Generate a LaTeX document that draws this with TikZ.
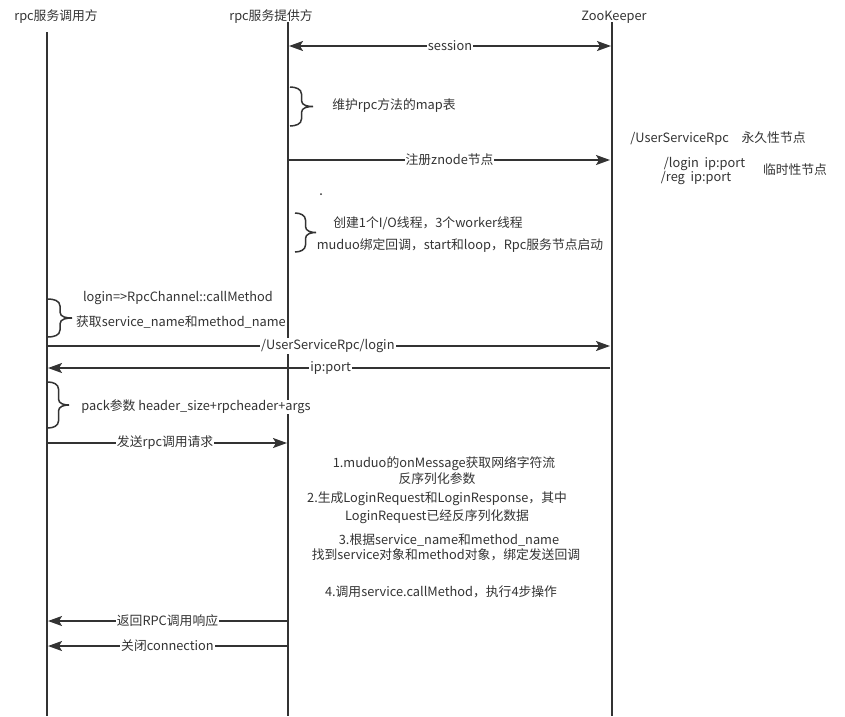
\documentclass[tikz,border=0pt]{standalone}
\usepackage{fontspec}
\setmainfont{Noto Sans CJK SC}
\usetikzlibrary{arrows.meta}
\definecolor{ink}{HTML}{333333}
% curly bracket: #1 x, #2 top, #3 bottom, #4 width
\newcommand\cbrace[4]{%
  \pgfmathsetmacro\bx{#1+#4/2}\pgfmathsetmacro\bm{(#2+#3)/2}%
  \pgfmathsetmacro\bt{#1+#4}%
  \draw[brc] (#1,#2) to[out=0,in=90] (\bx,#2+7) -- (\bx,\bm-6)
     to[out=-90,in=180] (\bt,\bm) (\bt,\bm) to[out=180,in=90] (\bx,\bm+6)
     -- (\bx,#3-7) to[out=-90,in=0] (#1,#3);}
\begin{document}
\begin{tikzpicture}[x=1pt,y=-1pt,
  txt/.style={font=\fontsize{12.8}{14}\selectfont, text=ink, inner sep=1pt},
  lbl/.style={txt, fill=white},
  life/.style={draw=ink, line width=2pt},
  msg/.style={draw=ink, line width=1.5pt, -{Stealth[length=14pt,width=10pt,inset=3pt]}},
  dmsg/.style={draw=ink, line width=1.5pt, {Stealth[length=14pt,width=10pt,inset=3pt]}-{Stealth[length=14pt,width=10pt,inset=3pt]}},
  brc/.style={draw=ink, line width=1.5pt}]
\useasboundingbox (0,0) rectangle (845,716);
% headers
\node[txt] (hA) at (56,17) {rpc服务调用方};
\node[txt] (hB) at (271,17) {rpc服务提供方};
\node[txt] (hC) at (614,17) {ZooKeeper};
% lifelines
\coordinate (A1) at (47,32); \coordinate (A2) at (47,716);
\coordinate (B1) at (288,22); \coordinate (B2) at (288,716);
\coordinate (C1) at (612,22); \coordinate (C2) at (612,716);
\draw[life] (A1) -- (A2);
\draw[life] (B1) -- (B2);
\draw[life] (C1) -- (C2);
% session
\coordinate (s1) at (289,46); \coordinate (s2) at (611,46);
\draw[dmsg] (s1) -- node[lbl] {session} (s2);
% brace map
\cbrace{290}{87}{126}{23}
\node[txt] (t1) at (394,106) {维护rpc方法的map表};
% register
\coordinate (r1) at (289,160); \coordinate (r2) at (610,160);
\draw[msg] (r1) -- node[lbl] {注册znode节点} (r2);
\node[txt] (z1) at (718,139) {/UserServiceRpc\quad 永久性节点};
\node[txt, align=left] (z2) at (703,171) {\hspace*{3pt}/login\ \ ip:port\\/reg\ \ ip:port};
\node[txt] (z3) at (795,170) {临时性节点};
\fill[ink] (321,194) circle (1pt);
% brace threads
\cbrace{295}{213}{252}{21}
\node[txt] (t2) at (428,223) {创建1个I/O线程，3个worker线程};
\node[txt] (t3) at (460,246) {muduo绑定回调，start和loop，Rpc服务节点启动};
% caller brace
\cbrace{48}{299}{337}{24}
\node[txt] (t4) at (178,298) {login=>RpcChannel::callMethod};
\node[txt, fill=white, inner sep=0pt] (t5) at (181,322) {获取service\_name和method\_name};
% login lookup
\coordinate (l1) at (48,346); \coordinate (l2) at (610,346);
\draw[msg] (l1) -- node[lbl, pos=0.498] {/UserServiceRpc/login} (l2);
\coordinate (p1) at (610,368); \coordinate (p2) at (48,368);
\draw[msg] (p1) -- node[lbl, pos=0.497] {ip:port} (p2);
% pack brace
\cbrace{48}{382}{428}{21}
\node[txt, fill=white, inner sep=0pt] (t6) at (196,407) {pack参数 header\_size+rpcheader+args};
% send request
\coordinate (q1) at (48,443); \coordinate (q2) at (287,443);
\draw[msg] (q1) -- node[lbl, pos=0.49] {发送rpc调用请求} (q2);
% provider steps
\node[txt] (u1) at (444,464) {1.muduo的onMessage获取网络字符流};
\node[txt] (u2) at (437,479) {反序列化参数};
\node[txt] (u3) at (437,499) {2.生成LoginRequest和LoginResponse，其中};
\node[txt] (u4) at (437,517) {LoginRequest已经反序列化数据};
\node[txt] (u5) at (449,540) {3.根据service\_name和method\_name};
\node[txt] (u6) at (446,555) {找到service对象和method对象，绑定发送回调};
\node[txt] (u7) at (441,592) {4.调用service.callMethod，执行4步操作};
% responses
\coordinate (v1) at (287,621); \coordinate (v2) at (48,621);
\draw[msg] (v1) -- node[lbl, pos=0.5] {返回RPC调用响应} (v2);
\coordinate (w1) at (287,646); \coordinate (w2) at (48,646);
\draw[msg] (w1) -- node[lbl, pos=0.5] {关闭connection} (w2);
\end{tikzpicture}
\end{document}
